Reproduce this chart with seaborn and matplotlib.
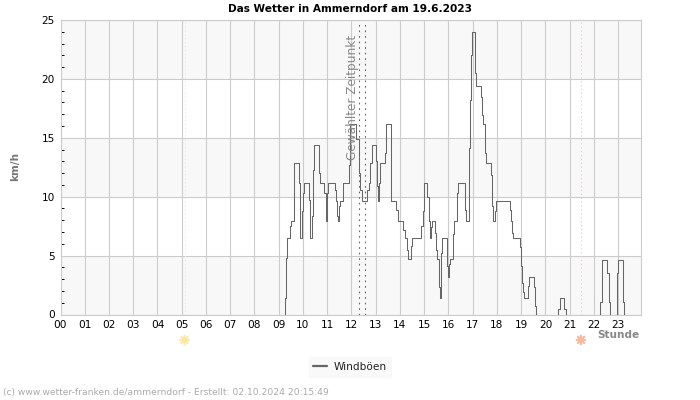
import pandas as pd
import matplotlib
matplotlib.use('Agg')
import matplotlib.pyplot as plt
import matplotlib.patheffects as pe
import seaborn as sns

hours_1 = [9.25, 9.25, 9.29, 9.34, 9.45, 9.50, 9.61, 9.66, 9.85, 9.89, 9.94, 9.96, 9.99, 10.05, 10.24, 10.28,
           10.31, 10.39, 10.42, 10.46, 10.65, 10.69, 10.88, 10.94, 10.95, 10.99, 11.02, 11.31, 11.35, 11.41,
           11.45, 11.48, 11.52, 11.65, 11.89, 11.93, 12.20, 12.30, 12.37, 12.44, 12.64, 12.71, 12.78, 12.84,
           13.03, 13.06, 13.10, 13.13, 13.17, 13.37, 13.43, 13.61, 13.63, 13.65, 13.85, 13.91, 14.12, 14.19,
           14.30, 14.34, 14.47, 14.51, 14.88, 14.94, 14.98, 15.00, 15.13, 15.20, 15.24, 15.27, 15.32, 15.44,
           15.49, 15.51, 15.60, 15.62, 15.65, 15.68, 15.71, 15.75, 15.94, 15.98, 16.02, 16.08, 16.19, 16.24,
           16.35, 16.39, 16.68, 16.72, 16.83, 16.85, 16.89, 16.93, 16.97, 17.08, 17.11, 17.15, 17.33, 17.37,
           17.41, 17.49, 17.52, 17.56, 17.77, 17.80, 17.82, 17.92, 17.97, 18.54, 18.58, 18.63, 18.68, 18.95,
           18.98, 19.03, 19.07, 19.10, 19.28, 19.34, 19.53, 19.57, 19.60]
gusts_1 = [0, 1.4, 4.8, 6.5, 7.5, 7.9, 12.9, 12.9, 11.2, 6.5, 7.4, 8.8, 10.3, 11.2, 9.7, 7.7,
           6.5, 8.4, 12.3, 14.4, 12.0, 11.2, 10.3, 8.7, 7.9, 10.3, 11.2, 10.6, 9.6, 8.4,
           7.9, 9.2, 9.6, 11.2, 12.7, 16.2, 14.9, 12.0, 10.6, 9.6, 10.6, 11.2, 12.9, 14.4,
           13.0, 10.9, 9.6, 11.2, 12.9, 13.7, 16.2, 13.7, 12.0, 9.6, 8.9, 7.9, 7.2, 6.5,
           5.5, 4.7, 5.8, 6.5, 7.5, 8.8, 10.3, 11.2, 10.0, 7.9, 6.5, 7.4, 7.9, 6.9,
           5.5, 4.7, 3.6, 2.3, 1.4, 2.7, 5.2, 6.5, 4.1, 3.2, 4.3, 4.7, 6.8, 7.9,
           10.3, 11.2, 8.9, 7.9, 10.0, 14.1, 18.2, 22.0, 24.0, 22.9, 20.5, 19.4, 18.5, 16.9,
           16.2, 15.3, 13.7, 12.9, 11.8, 9.2, 7.9, 8.8, 9.6, 8.9, 7.9, 6.9, 6.5, 5.7,
           4.1, 2.7, 1.9, 1.4, 2.4, 3.2, 2.3, 0.7, 0]
hours_2 = [20.50, 20.52, 20.58, 20.78, 20.84]
gusts_2 = [0, 0.5, 1.4, 0.5, 0]
hours_3 = [22.26, 22.26, 22.32, 22.54, 22.62, 22.67]
gusts_3 = [0, 1.1, 4.6, 3.5, 1.1, 0]
hours_4 = [22.91, 22.95, 22.99, 23.20, 23.25]
gusts_4 = [0, 3.5, 4.6, 1.1, 0]

tick_labels = ['%02d' % h for h in range(24)]
selected = [12.3, 12.55]
sunrise = 5.15
sunset = 21.47

bursts = [(hours_1, gusts_1), (hours_2, gusts_2), (hours_3, gusts_3), (hours_4, gusts_4)]
df = pd.concat([pd.DataFrame({'hour': h, 'gust': g, 'burst': i}) for i, (h, g) in enumerate(bursts)])

sns.set_theme(style='white')
plt.rcParams['font.family'] = ['DejaVu Sans']

fig = plt.figure(figsize=(7, 4), dpi=100)
ax = fig.add_axes([60.5 / 700, 85.5 / 400, 580 / 700, 294.5 / 400])

# alternating bands behind the grid
for low in [0, 10, 20]:
    ax.axhspan(low, low + 5, color='#f8f8f8', lw=0, zorder=0)
ax.grid(True, color='#cccccc', lw=0.8, zorder=1)
ax.set_axisbelow(True)

ax.axvline(sunrise, color='#fbe9a8', lw=0.8, ls=(0, (1, 2.5)), zorder=2)
ax.axvline(sunset, color='#f8c8a0', lw=0.8, ls=(0, (1, 2.5)), zorder=2)
for s in selected:
    ax.axvline(s, color='#666666', lw=0.8, ls=(0, (1.5, 3.5)), zorder=2)

sns.lineplot(data=df, x='hour', y='gust', units='burst', estimator=None, drawstyle='steps-post',
             color='#666666', lw=0.75, ax=ax, legend=False, zorder=3)

ax.set_xlim(0, 23.92)
ax.set_ylim(0, 25)
ax.set_xticks(range(24))
ax.set_xticklabels(tick_labels, fontsize=7.6, color='black')
ax.set_yticks(range(0, 26, 5))
ax.set_yticks(range(0, 26), minor=True)
ax.tick_params(axis='x', direction='in', length=4.5, width=0.7, color='black', pad=4)
ax.tick_params(axis='y', which='major', direction='in', length=0, labelsize=7.6, pad=4, labelcolor='black')
ax.tick_params(axis='y', which='minor', direction='in', length=2.5, width=0.7, color='black', left=True)
ax.set_xlabel('')
ax.set_ylabel('')
for spine in ['top', 'right', 'left', 'bottom']:
    ax.spines[spine].set_color('#cccccc')
    ax.spines[spine].set_linewidth(0.8)

ax.text(12.03, 13.1, 'Gewählter Zeitpunkt', rotation=90, ha='center', va='bottom', fontsize=8.7,
        color='#888888', zorder=4)

fig.text(350 / 700, 1 - 8.5 / 400, 'Das Wetter in Ammerndorf am 19.6.2023', ha='center', va='center',
         fontsize=7.6, fontweight='bold', color='black')
fig.text(15.5 / 700, 1 - 166 / 400, 'km/h', rotation=90, ha='center', va='center', fontsize=7.6,
         fontweight='bold', color='#777777')
fig.text(618 / 700, 1 - 334.5 / 400, 'Stunde', ha='center', va='center', fontsize=7.6,
         fontweight='bold', color='#888888')
fig.text(3 / 700, 1 - 393 / 400, '(c) www.wetter-franken.de/ammerndorf - Erstellt: 02.10.2024 20:15:49',
         ha='left', va='center', fontsize=6.55, color='#aaaaaa')
for x_px, sun_color in [(184.5, '#fde7a0'), (581, '#f9b8a0')]:
    fig.text(x_px / 700, 1 - 341 / 400, '☀', ha='center', va='center', fontsize=9, color=sun_color,
             path_effects=[pe.withStroke(linewidth=1, foreground=sun_color)])

handle = plt.Line2D([], [], color='#666666', lw=1.6)
fig.legend([handle], ['Windböen'], loc='center', bbox_to_anchor=(350 / 700, 1 - 367 / 400), frameon=True,
           facecolor='#f8f8f8', edgecolor='#f8f8f8', fontsize=7.6, handlelength=1.3, handletextpad=0.6,
           fancybox=False, borderpad=0.45, labelcolor='#222222')

fig.savefig('out.png', dpi=100)
